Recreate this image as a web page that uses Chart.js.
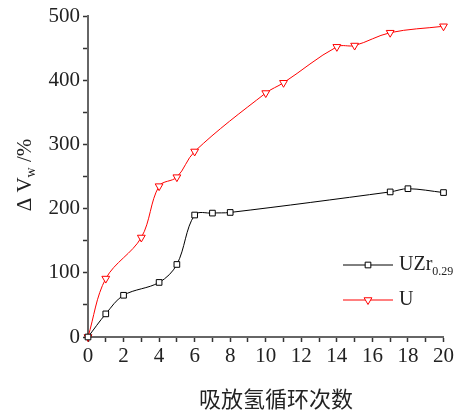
<!DOCTYPE html>
<html><head><meta charset="utf-8">
<script src="https://cdn.jsdelivr.net/npm/chart.js@4"></script>
<style>html,body{margin:0;padding:0;background:#fff}#wrap{width:456px;height:414px;position:relative}</style>
</head><body><div id="wrap"><canvas id="c" width="456" height="414"></canvas></div>
<script>
const uzrCycles = [0,1,2,4,5,6,7,8,17,18,20];
const uzrValues = [0,36,65,85,113,190,193,194,226,231,225];
const uCycles = [0,1,3,4,5,6,10,11,14,15,17,20];
const uValues = [0,91,155,235,249,289,380,396,452,454,474,484];
const xTicks = [0,2,4,6,8,10,12,14,16,18,20];
const yTicks = [0,100,200,300,400,500];
const xTitle = '吸放氢循环次数';
const seriesNames = ['UZr', 'U'];

const serif = '"Liberation Serif","DejaVu Serif",serif';

const labelsPlugin = {
  id: 'labels',
  afterDraw(chart) {
    const ctx = chart.ctx;
    ctx.save();
    ctx.fillStyle = '#222';
    ctx.font = '22px "Noto Sans CJK SC"';
    ctx.textAlign = 'center'; ctx.textBaseline = 'middle';
    ctx.fillText(xTitle, 276, 399);
    ctx.translate(24, 175);
    ctx.rotate(-Math.PI/2);
    ctx.textBaseline = 'alphabetic';
    ctx.textAlign = 'left';
    ctx.font = '21px ' + serif;
    const p1 = 'Δ V';
    const w1 = ctx.measureText(p1).width;
    ctx.font = '14px ' + serif;
    const w2 = ctx.measureText('w').width;
    ctx.font = '21px ' + serif;
    const p3 = ' /%';
    const w3 = ctx.measureText(p3).width;
    let sx = -(w1 + w2 + w3)/2;
    ctx.fillText(p1, sx, 7);
    ctx.font = '14px ' + serif;
    ctx.fillText('w', sx + w1, 11);
    ctx.font = '21px ' + serif;
    ctx.fillText(p3, sx + w1 + w2, 7);
    ctx.restore();

    ctx.save();
    const items = [
      {name: seriesNames[0], sub: '0.29', ds: chart.data.datasets[0], y: 265},
      {name: seriesNames[1], sub: '', ds: chart.data.datasets[1], y: 300}
    ];
    items.forEach(it => {
      ctx.strokeStyle = it.ds.borderColor; ctx.lineWidth = 1;
      ctx.beginPath(); ctx.moveTo(343, it.y); ctx.lineTo(393, it.y); ctx.stroke();
      ctx.fillStyle = '#fff'; ctx.strokeStyle = it.ds.borderColor;
      Chart.helpers.drawPoint(ctx, {pointStyle: it.ds.pointStyle, rotation: it.ds.pointRotation, radius: it.ds.pointRadius, borderWidth: 1}, 368, it.y);
      ctx.fillStyle = '#222';
      ctx.textBaseline = 'middle'; ctx.textAlign = 'left';
      ctx.font = '20px ' + serif;
      ctx.fillText(it.name, 399, it.y);
      if (it.sub) {
        const w = ctx.measureText(it.name).width;
        ctx.font = '12px ' + serif;
        ctx.fillText(it.sub, 399 + w, it.y + 7);
      }
    });
    ctx.restore();
  }
};

new Chart(document.getElementById('c'), {
  type: 'line',
  data: {
    datasets: [
      {
        label: 'UZr0.29',
        data: uzrCycles.map((x,i)=>({x, y: uzrValues[i]})),
        borderColor: '#000', backgroundColor: '#fff', borderWidth: 1,
        pointStyle: 'rect', pointRadius: 4, pointBorderWidth: 1, pointRotation: 0,
        pointBackgroundColor: '#fff', pointBorderColor: '#000',
        tension: 0.35, clip: false
      },
      {
        label: 'U',
        data: uCycles.map((x,i)=>({x, y: uValues[i]})),
        borderColor: '#ff0000', backgroundColor: '#fff', borderWidth: 1,
        pointStyle: 'triangle', pointRadius: 4.5, pointBorderWidth: 1, pointRotation: 180,
        pointBackgroundColor: '#fff', pointBorderColor: '#ff0000',
        tension: 0.35, clip: false
      }
    ]
  },
  options: {
    responsive: false, animation: false,
    layout: {padding: {left: 0, right: 12, top: 16, bottom: 0}},
    plugins: {legend: {display: false}, tooltip: {enabled: false}},
    scales: {
      x: {
        type: 'linear', min: 0, max: 20,
        afterFit(s){ s.height = 77; },
        afterBuildTicks(s){ s.ticks = []; for (let v=0; v<=20; v++) s.ticks.push({value: v}); },
        ticks: {
          callback: v => xTicks.includes(v) ? String(v) : '',
          autoSkip: false, maxRotation: 0, color: '#222',
          font: {family: serif, size: 21}, padding: 2
        },
        grid: {drawOnChartArea: false, drawTicks: true, tickLength: 5, tickColor: '#333', tickWidth: 1.5},
        border: {color: '#666', width: 2}
      },
      y: {
        type: 'linear', min: 0, max: 500,
        afterFit(s){ s.width = 88; },
        afterBuildTicks(s){ s.ticks = []; for (let v=0; v<=500; v+=50) s.ticks.push({value: v}); },
        ticks: {
          callback: v => yTicks.includes(v) ? String(v) : '',
          autoSkip: false, color: '#222',
          font: {family: serif, size: 21}, padding: 3
        },
        grid: {drawOnChartArea: false, drawTicks: true, tickLength: 5, tickColor: '#333', tickWidth: 1.5},
        border: {color: '#666', width: 2}
      }
    }
  },
  plugins: [labelsPlugin]
});
</script></body></html>
